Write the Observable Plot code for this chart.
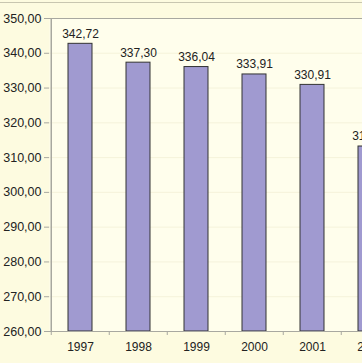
<!DOCTYPE html>
<html><head><meta charset="utf-8">
<script src="https://cdn.jsdelivr.net/npm/d3@7"></script>
<script src="https://cdn.jsdelivr.net/npm/@observablehq/plot@0.6"></script>
<style>
html,body{margin:0;padding:0;overflow:hidden;background:#fdfbe0;}
#wrap{position:relative;width:362px;height:363px;}
#border{position:absolute;left:0;top:2px;width:362px;height:1px;background:#c8c6b0;}
</style></head>
<body><div id="wrap"><div id="border"></div></div>
<script>
const years = ["1997","1998","1999","2000","2001","2002"];
const values = [342.72, 337.30, 336.04, 333.91, 330.91, 313.19];
const yTicks = [260,270,280,290,300,310,320,330,340,350];

const data = years.map((y,i)=>({year:y, value:values[i]}));
const fmt = d => d.toFixed(2).replace(".", ",");
const step = 58.5;

const chart = Plot.plot({
  width: 362, height: 363,
  marginLeft: 49, marginTop: 18, marginBottom: 32, marginRight: 0,
  style: {background: "#fdfbe0", fontFamily: "Liberation Sans, Arial, sans-serif", fontSize: "12px", color: "#222"},
  x: {type: "band", domain: years, range: [49, 49 + step*years.length], paddingInner: 0.59, paddingOuter: 0.295},
  y: {domain: [260, 350]},
  marks: [
    Plot.frame({fill: "#fffeec", stroke: "none"}),
    Plot.gridY(yTicks, {stroke: "#eeeacc", strokeOpacity: 0.5}),
    Plot.ruleY([350], {stroke: "#a8a8a0"}),
    Plot.barY(data, {x: "year", y1: 260, y2: "value", fill: "#a09ad0", stroke: "#333", strokeWidth: 1}),
    Plot.text(data, {x: "year", y: "value", text: d => fmt(d.value), dy: -10, fontSize: 12, fill: "#222"}),
    Plot.ruleX([years[0]], {y1: 260, y2: 350, stroke: "#a8a8a0", dx: -step/2, strokeWidth: 1.5}),
    Plot.ruleY([260], {stroke: "#a8a8a0"}),
    Plot.axisY(yTicks, {tickFormat: fmt, tickSize: 5, tickPadding: 3, stroke: "#a8a8a0", fill: "#222", fontSize: 12.5, label: null}),
    Plot.axisX(years, {tickSize: 4, dx: -step/2, tickFormat: null, stroke: "#a8a8a0", label: null}),
    Plot.axisX(years, {tickSize: 0, tickPadding: 11, fill: "#222", fontSize: 12, label: null})
  ]
});
document.getElementById("wrap").appendChild(chart);
</script></body></html>
